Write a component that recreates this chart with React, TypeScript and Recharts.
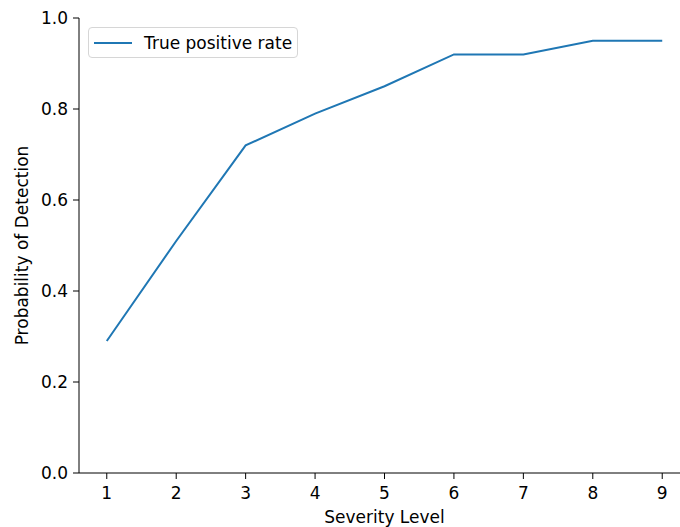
import { LineChart, Line, XAxis, YAxis } from "recharts";

const severityLevels = [1, 2, 3, 4, 5, 6, 7, 8, 9];
const truePositiveRate = [0.29, 0.51, 0.72, 0.79, 0.85, 0.92, 0.92, 0.95, 0.95];
const xTicks = [1, 2, 3, 4, 5, 6, 7, 8, 9];
const yTicks = [0, 0.2, 0.4, 0.6, 0.8, 1.0];

const data = severityLevels.map((level, i) => ({
  level,
  tpr: truePositiveRate[i],
}));

const FONT = "'DejaVu Sans', sans-serif";
const tickStyle = { fill: "#000", fontSize: 17, fontFamily: FONT };

// matplotlib-style legend box drawn on top of the plot
function LegendBox() {
  return (
    <div
      style={{
        position: "absolute",
        left: 88,
        top: 27,
        width: 210,
        height: 31,
        border: "1px solid #d6d6d6",
        borderRadius: 4,
        background: "rgba(255,255,255,0.8)",
        display: "flex",
        alignItems: "center",
        fontFamily: FONT,
        fontSize: 17,
        color: "#000",
        boxSizing: "border-box",
      }}
    >
      <span
        style={{
          display: "inline-block",
          width: 38,
          height: 2,
          background: "#1f77b4",
          marginLeft: 5,
          marginRight: 12,
        }}
      />
      <span>True positive rate</span>
    </div>
  );
}

export default function App() {
  return (
    <div
      style={{
        position: "absolute",
        left: 0,
        top: 0,
        width: 680,
        height: 527,
        overflow: "hidden",
        background: "#fff",
      }}
    >
      <LineChart
        width={700}
        height={527}
        data={data}
        margin={{ top: 18, right: 10, bottom: 0, left: 0 }}
      >
        <XAxis
          dataKey="level"
          type="number"
          domain={[0.6, 9.4]}
          ticks={xTicks}
          allowDataOverflow
          height={54}
          tick={tickStyle}
          tickSize={6}
          tickMargin={8}
          axisLine={{ stroke: "#000", strokeWidth: 1 }}
          tickLine={{ stroke: "#000" }}
          label={{
            value: "Severity Level",
            position: "insideBottom",
            offset: 4,
            style: { fill: "#000", fontSize: 17, fontFamily: FONT },
          }}
        />
        <XAxis
          xAxisId="top"
          orientation="top"
          dataKey="level"
          type="number"
          domain={[0.6, 9.4]}
          height={0}
          tick={false}
          tickLine={false}
          axisLine={{ stroke: "#000", strokeWidth: 1 }}
        />
        <YAxis
          type="number"
          domain={[0, 1]}
          ticks={yTicks}
          width={79}
          tick={tickStyle}
          tickSize={6}
          tickMargin={5}
          tickFormatter={(v: number) => v.toFixed(1)}
          axisLine={{ stroke: "#000", strokeWidth: 1 }}
          tickLine={{ stroke: "#000" }}
          label={{
            value: "Probability of Detection",
            angle: -90,
            position: "insideLeft",
            offset: 22,
            style: {
              fill: "#000",
              fontSize: 17,
              fontFamily: FONT,
              textAnchor: "middle",
            },
          }}
        />
        <Line
          type="linear"
          dataKey="tpr"
          name="True positive rate"
          stroke="#1f77b4"
          strokeWidth={2}
          dot={false}
          isAnimationActive={false}
        />
      </LineChart>
      <LegendBox />
    </div>
  );
}
